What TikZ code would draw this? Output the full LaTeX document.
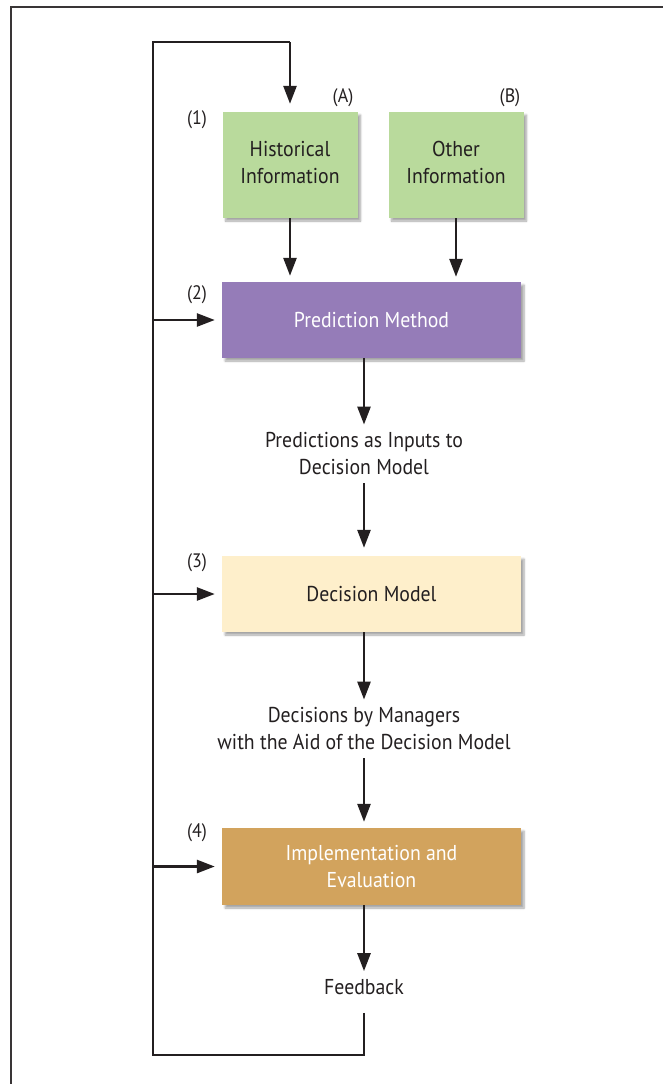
\documentclass[tikz,border=0pt]{standalone}
\usepackage{fontspec}
\setmainfont{PT Sans}[FakeStretch=0.92]
\usetikzlibrary{arrows.meta,shadows.blur}
\definecolor{ink}{HTML}{231F20}
\definecolor{histgreen}{HTML}{B9DA9C}
\definecolor{predpurple}{HTML}{957CB8}
\definecolor{decyellow}{HTML}{FEEFCB}
\definecolor{impltan}{HTML}{D2A35D}
\newcommand{\raisedlines}[1]{\raisebox{4pt}{\begin{tabular}{@{}c@{}}#1\end{tabular}}}
\tikzset{
  x=1pt, y=-1pt,
  every node/.style={font=\fontsize{21.5}{27}\selectfont, text=ink, align=center, inner sep=0pt},
  box/.style={rectangle, draw=none, minimum width=299pt, minimum height=76pt,
    blur shadow={shadow xshift=3pt, shadow yshift=-3pt, shadow blur steps=6, shadow opacity=35}},
  smallbox/.style={box, minimum width=135pt, minimum height=106pt, fill=histgreen},
  tag/.style={font=\fontsize{19.5}{22}\selectfont},
  conn/.style={draw=ink, line width=2.7pt},
  arr/.style={conn, -{Triangle[length=18pt, width=13pt]}, shorten >=6pt},
}
\begin{document}
\begin{tikzpicture}
\useasboundingbox (0,0) rectangle (662,1084);
% frame around the figure
\draw[draw=ink!90, line width=2pt] (11,1090) -- (11,7) -- (670,7);

% input boxes
\node[smallbox] (A) at (290,165) {\raisedlines{Historical\\Information}};
\node[smallbox] (B) at (456,165) {\raisedlines{Other\\Information}};

% stages
\node[box, fill=predpurple, text=white] (P) at (371.5,320) {Prediction Method};
\node[box, fill=decyellow] (D) at (371.5,594) {Decision Model};
\node[box, fill=impltan, text=white, minimum height=77pt] (I) at (371.5,866.5) {Implementation and\\Evaluation};

% intermediate texts
\node (t1) at (364,454) {Predictions as Inputs to\\Decision Model};
\node (t2) at (364,729) {Decisions by Managers\\with the Aid of the Decision Model};
\node (fb) at (364,987) {Feedback};

% step numbers and letters
\node[tag] (n1) at (197,120) {(1)};
\node[tag] (n2) at (197,295) {(2)};
\node[tag] (n3) at (197,563) {(3)};
\node[tag] (n4) at (197,833) {(4)};
\node[tag] (la) at (343,98) {(A)};
\node[tag] (lb) at (510,98) {(B)};

% feedback loop corners
\coordinate (bl) at (153,1055);
\coordinate (tl) at (153,42);

% main flow
\draw[arr] (A.south) -- (A.south |- P.north);
\draw[arr, shorten >=5pt] (B.south) -- (B.south |- P.north);
\draw[arr, shorten >=8pt] (P.south -| t1.north) -- (t1.north);
\draw[arr, shorten <=8pt, shorten >=8pt] (t1.south) -- (t1.south |- D.north);
\draw[arr, shorten >=8pt] (D.south -| t2.north) -- (t2.north);
\draw[arr, shorten <=8pt, shorten >=6pt] (t2.south) -- (t2.south |- I.north);
\draw[arr, shorten >=8pt] (I.south -| fb.north) -- (fb.north);

% feedback loop
\draw[conn, line join=miter] (fb.south) ++(0,18) coordinate (fbs) -- (fbs |- bl) -- (bl) -- (tl) -- (tl -| A.north);
\draw[arr, shorten >=8pt] (tl -| A.north) -- (A.north);
\draw[arr, shorten >=7pt] (tl |- P.west) -- (P.west);
\draw[arr, shorten >=7pt] (tl |- D.west) -- (D.west);
\draw[arr, shorten >=7pt] (tl |- I.west) -- (I.west);
\end{tikzpicture}
\end{document}
